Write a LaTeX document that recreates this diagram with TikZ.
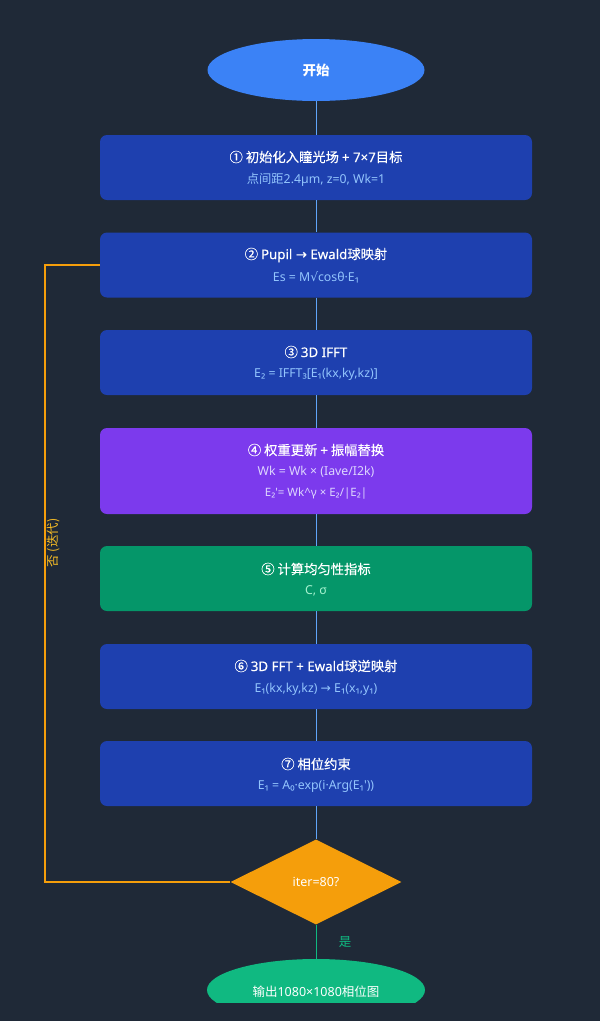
\documentclass[tikz,border=0pt]{standalone}
\usepackage{fontspec}
\setmainfont{Noto Sans CJK SC}
\newfontfamily\lat{Noto Sans}
\newfontfamily\dv{DejaVu Sans}
\newfontfamily\cjkt[FakeBold=0.3]{Noto Sans CJK SC}
\newfontfamily\latt[FakeBold=0.3]{Noto Sans}
\newfontfamily\dvt[FakeBold=0.3]{DejaVu Sans}
\usetikzlibrary{shapes.geometric}
\definecolor{bg}{HTML}{1F2937}
\definecolor{startc}{HTML}{3B82F6}
\definecolor{boxblue}{HTML}{1E40AF}
\definecolor{boxpurple}{HTML}{7C3AED}
\definecolor{boxgreen}{HTML}{059669}
\definecolor{diamc}{HTML}{F59E0B}
\definecolor{endc}{HTML}{10B981}
\definecolor{linkblue}{HTML}{60A5FA}
\definecolor{subblue}{HTML}{93C5FD}
\definecolor{subpurple}{HTML}{DDD6FE}
\definecolor{subgreen}{HTML}{A7F3D0}
\definecolor{loopc}{HTML}{F59E0B}
\definecolor{looptext}{HTML}{FBBF24}
\begin{document}
\begin{tikzpicture}[x=1pt,y=-1pt,
  stepbox/.style={rectangle, rounded corners=7pt, minimum width=432pt, inner sep=0pt, align=center, text=white},
  bluebox/.style={stepbox, fill=boxblue, minimum height=65pt},
  titletext/.style={text=white, font=\fontsize{13.3}{16}\selectfont\cjkt},
  subtext/.style={font=\fontsize{12.3}{15}\selectfont\lat},
  link/.style={draw=linkblue, line width=1pt},
  greenlink/.style={draw=endc, line width=1pt},
  looplink/.style={draw=loopc, line width=1.3pt},
]
\fill[bg] (0,0) rectangle (600,1021);
\useasboundingbox (0,0) rectangle (600,1021);

\node[ellipse, fill=startc, minimum width=217pt, minimum height=62pt, text=white, font=\fontsize{13.5}{15}\selectfont\bfseries] (start) at (316,70) {开始};

\node[bluebox] (b1) at (316,167.5) {};
\node[bluebox] (b2) at (316,265) {};
\node[bluebox] (b3) at (316,362.5) {};
\node[stepbox, fill=boxpurple, minimum height=86pt] (b4) at (316,471) {};
\node[stepbox, fill=boxgreen, minimum height=65pt] (b5) at (316,578.5) {};
\node[bluebox] (b6) at (316,676.5) {};
\node[bluebox] (b7) at (316,773.5) {};

\node[diamond, fill=diamc, minimum width=171pt, minimum height=85pt, inner sep=0pt, text=white, font=\fontsize{12.5}{14}\selectfont\lat] (dec) at (316,882) {iter=80?};

\begin{scope}
\clip (0,0) rectangle (600,1002);
\node[ellipse, fill=endc, minimum width=218pt, minimum height=62pt, inner sep=0pt] (endn) at (316,990) {};
\end{scope}
\node[text=white, font=\fontsize{12.5}{14}\selectfont, anchor=center] (endt) at (316,992) {输出{\lat 1080×1080}相位图};

% connectors
\draw[link] (start.south) -- (b1.north);
\draw[link] (b1.south) -- (b2.north);
\draw[link] (b2.south) -- (b3.north);
\draw[link] (b3.south) -- (b4.north);
\draw[link] (b4.south) -- (b5.north);
\draw[link] (b5.south) -- (b6.north);
\draw[link] (b6.south) -- (b7.north);
\draw[link] (b7.south) -- (dec.north);
\draw[greenlink] (dec.south) -- (endn.north);
\node[text=endc, font=\fontsize{12.5}{14}\selectfont] (yes) at (345,942) {是};

\coordinate (lp1) at (45,882);
\coordinate (lp2) at (45,265);
\draw[looplink] (dec.west) -- (lp1) -- (lp2) -- (b2.west);
\node[text=looptext, rotate=90, font=\fontsize{12.5}{14}\selectfont] (no) at (53,543) {否 (迭代)};

% texts
\node[titletext] (t1) at (316,157) {① 初始化入瞳光场 {\latt + 7×7}目标};
\node[text=subblue, subtext] (s1) at (316,180) {{\rmfamily 点间距}2.4µm, z=0, Wk=1};

\node[titletext] (t2) at (316,255) {② {\latt Pupil {\dvt →} Ewald}球映射};
\node[text=subblue, subtext] (s2) at (316,277) {Es = M{\dv √}cosθ·E₁};

\node[titletext] (t3) at (316,352) {③ {\latt 3D IFFT}};
\node[text=subblue, subtext] (s3) at (316,374) {E₂ = IFFT₃[E₁(kx,ky,kz)]};

\node[titletext] (t4) at (316,450) {④ 权重更新 {\latt +} 振幅替换};
\node[text=subpurple, subtext] (s4a) at (316,472) {Wk = Wk × (Iave/I2k)};
\node[text=subpurple, subtext, font=\fontsize{11.5}{14}\selectfont\lat] (s4b) at (316,494) {E₂'= Wk\^{}γ × E₂/|E₂|};

\node[titletext] (t5) at (316,569) {⑤ 计算均匀性指标};
\node[text=subgreen, subtext] (s5) at (316,591) {C, σ};

\node[titletext] (t6) at (316,666) {⑥ {\latt 3D FFT + Ewald}球逆映射};
\node[text=subblue, subtext] (s6) at (316,689) {E₁(kx,ky,kz) {\dv →} E₁(x₁,y₁)};

\node[titletext] (t7) at (316,764) {⑦ 相位约束};
\node[text=subblue, subtext] (s7) at (316,786) {E₁ = A₀·exp(i·Arg(E₁'))};
\end{tikzpicture}
\end{document}
